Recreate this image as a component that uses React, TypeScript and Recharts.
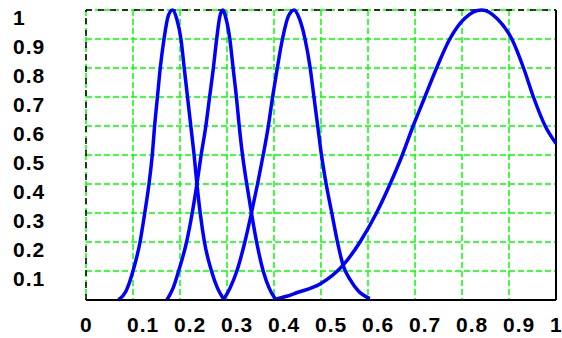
import React from "react";
import {
  LineChart,
  Line,
  XAxis,
  YAxis,
  CartesianGrid,
  ReferenceLine,
} from "recharts";

// tick values
const xTicks = [0, 0.1, 0.2, 0.3, 0.4, 0.5, 0.6, 0.7, 0.8, 0.9, 1];
const yTicks = [0.1, 0.2, 0.3, 0.4, 0.5, 0.6, 0.7, 0.8, 0.9, 1];

// curves, as { x, y } points
const curve1 = [
  { x: 0.069, y: 0 },
  { x: 0.085, y: 0.03 },
  { x: 0.1, y: 0.1 },
  { x: 0.115, y: 0.2 },
  { x: 0.125, y: 0.3 },
  { x: 0.134, y: 0.4 },
  { x: 0.141, y: 0.5 },
  { x: 0.146, y: 0.6 },
  { x: 0.152, y: 0.7 },
  { x: 0.158, y: 0.8 },
  { x: 0.166, y: 0.9 },
  { x: 0.175, y: 0.98 },
  { x: 0.184, y: 1.0 },
  { x: 0.193, y: 0.97 },
  { x: 0.202, y: 0.9 },
  { x: 0.209, y: 0.8 },
  { x: 0.216, y: 0.7 },
  { x: 0.223, y: 0.6 },
  { x: 0.23, y: 0.5 },
  { x: 0.236, y: 0.4 },
  { x: 0.243, y: 0.3 },
  { x: 0.252, y: 0.2 },
  { x: 0.267, y: 0.1 },
  { x: 0.28, y: 0.04 },
  { x: 0.292, y: 0.005 },
];

const curve2 = [
  { x: 0.172, y: 0 },
  { x: 0.185, y: 0.04 },
  { x: 0.197, y: 0.1 },
  { x: 0.214, y: 0.2 },
  { x: 0.226, y: 0.3 },
  { x: 0.236, y: 0.4 },
  { x: 0.245, y: 0.5 },
  { x: 0.255, y: 0.6 },
  { x: 0.263, y: 0.7 },
  { x: 0.271, y: 0.8 },
  { x: 0.278, y: 0.9 },
  { x: 0.285, y: 0.98 },
  { x: 0.291, y: 1.0 },
  { x: 0.298, y: 0.97 },
  { x: 0.306, y: 0.9 },
  { x: 0.313, y: 0.8 },
  { x: 0.32, y: 0.7 },
  { x: 0.326, y: 0.6 },
  { x: 0.333, y: 0.5 },
  { x: 0.342, y: 0.4 },
  { x: 0.352, y: 0.3 },
  { x: 0.363, y: 0.2 },
  { x: 0.377, y: 0.1 },
  { x: 0.39, y: 0.04 },
  { x: 0.402, y: 0.005 },
];

const curve3 = [
  { x: 0.292, y: 0 },
  { x: 0.306, y: 0.04 },
  { x: 0.321, y: 0.1 },
  { x: 0.338, y: 0.2 },
  { x: 0.352, y: 0.3 },
  { x: 0.365, y: 0.4 },
  { x: 0.377, y: 0.5 },
  { x: 0.388, y: 0.6 },
  { x: 0.397, y: 0.7 },
  { x: 0.407, y: 0.8 },
  { x: 0.418, y: 0.9 },
  { x: 0.431, y: 0.98 },
  { x: 0.443, y: 1.0 },
  { x: 0.454, y: 0.97 },
  { x: 0.466, y: 0.9 },
  { x: 0.477, y: 0.8 },
  { x: 0.485, y: 0.7 },
  { x: 0.493, y: 0.6 },
  { x: 0.501, y: 0.5 },
  { x: 0.511, y: 0.4 },
  { x: 0.523, y: 0.3 },
  { x: 0.535, y: 0.2 },
  { x: 0.547, y: 0.12 },
  { x: 0.562, y: 0.07 },
  { x: 0.58, y: 0.03 },
  { x: 0.604, y: 0.005 },
];

const curve4 = [
  { x: 0.402, y: 0.002 },
  { x: 0.425, y: 0.012 },
  { x: 0.448, y: 0.025 },
  { x: 0.498, y: 0.055 },
  { x: 0.547, y: 0.12 },
  { x: 0.583, y: 0.2 },
  { x: 0.618, y: 0.3 },
  { x: 0.647, y: 0.4 },
  { x: 0.673, y: 0.5 },
  { x: 0.696, y: 0.6 },
  { x: 0.721, y: 0.7 },
  { x: 0.746, y: 0.8 },
  { x: 0.774, y: 0.9 },
  { x: 0.805, y: 0.97 },
  { x: 0.842, y: 1.0 },
  { x: 0.875, y: 0.97 },
  { x: 0.906, y: 0.9 },
  { x: 0.931, y: 0.8 },
  { x: 0.952, y: 0.7 },
  { x: 0.977, y: 0.6 },
  { x: 1.0, y: 0.54 },
];

const curves = [curve1, curve2, curve3, curve4];

const labelStyle = {
  fontFamily: "'Liberation Sans', Arial, sans-serif",
  fontWeight: 700,
  fontSize: 21,
  letterSpacing: 1,
  fill: "#000",
};

const YTick = (props: any) => (
  <text x={13} y={props.y + 7} dominantBaseline="central" textAnchor="start" style={labelStyle}>
    {String(props.payload.value)}
  </text>
);

const XTick = (props: any) => (
  <text x={props.x - 6} y={324} dominantBaseline="central" textAnchor="start" style={labelStyle}>
    {String(props.payload.value)}
  </text>
);

const App = () => {
  return (
    <div style={{ position: "absolute", left: 0, top: 0, background: "#fff" }}>
      <LineChart
        width={562}
        height={338}
        margin={{ top: 10, right: 6, bottom: 0, left: 0 }}
      >
        <CartesianGrid
          stroke="#00ff00"
          strokeWidth={1.5}
          strokeDasharray="6 3"
          horizontalValues={yTicks}
          verticalValues={xTicks}
        />
        <XAxis
          type="number"
          dataKey="x"
          domain={[0, 1]}
          ticks={xTicks}
          height={38}
          axisLine={{ stroke: "#000", strokeWidth: 2 }}
          tickLine={false}
          tick={<XTick />}
          allowDuplicatedCategory={false}
        />
        <YAxis
          type="number"
          dataKey="y"
          domain={[0, 1]}
          ticks={yTicks}
          width={86}
          axisLine={false}
          tickLine={false}
          tick={<YTick />}
        />
        <ReferenceLine x={0} stroke="#000" strokeWidth={1.5} strokeDasharray="6 6" />
        <ReferenceLine y={1} stroke="#000" strokeWidth={1.5} strokeDasharray="6 6" />
        <ReferenceLine x={1} stroke="#000" strokeWidth={2} />
        {curves.map((c, i) => (
          <Line
            key={i}
            data={c}
            dataKey="y"
            type="monotone"
            stroke="#0000ff"
            strokeWidth={3.5}
            dot={false}
            activeDot={false}
            isAnimationActive={false}
          />
        ))}
      </LineChart>
    </div>
  );
};

export default App;
